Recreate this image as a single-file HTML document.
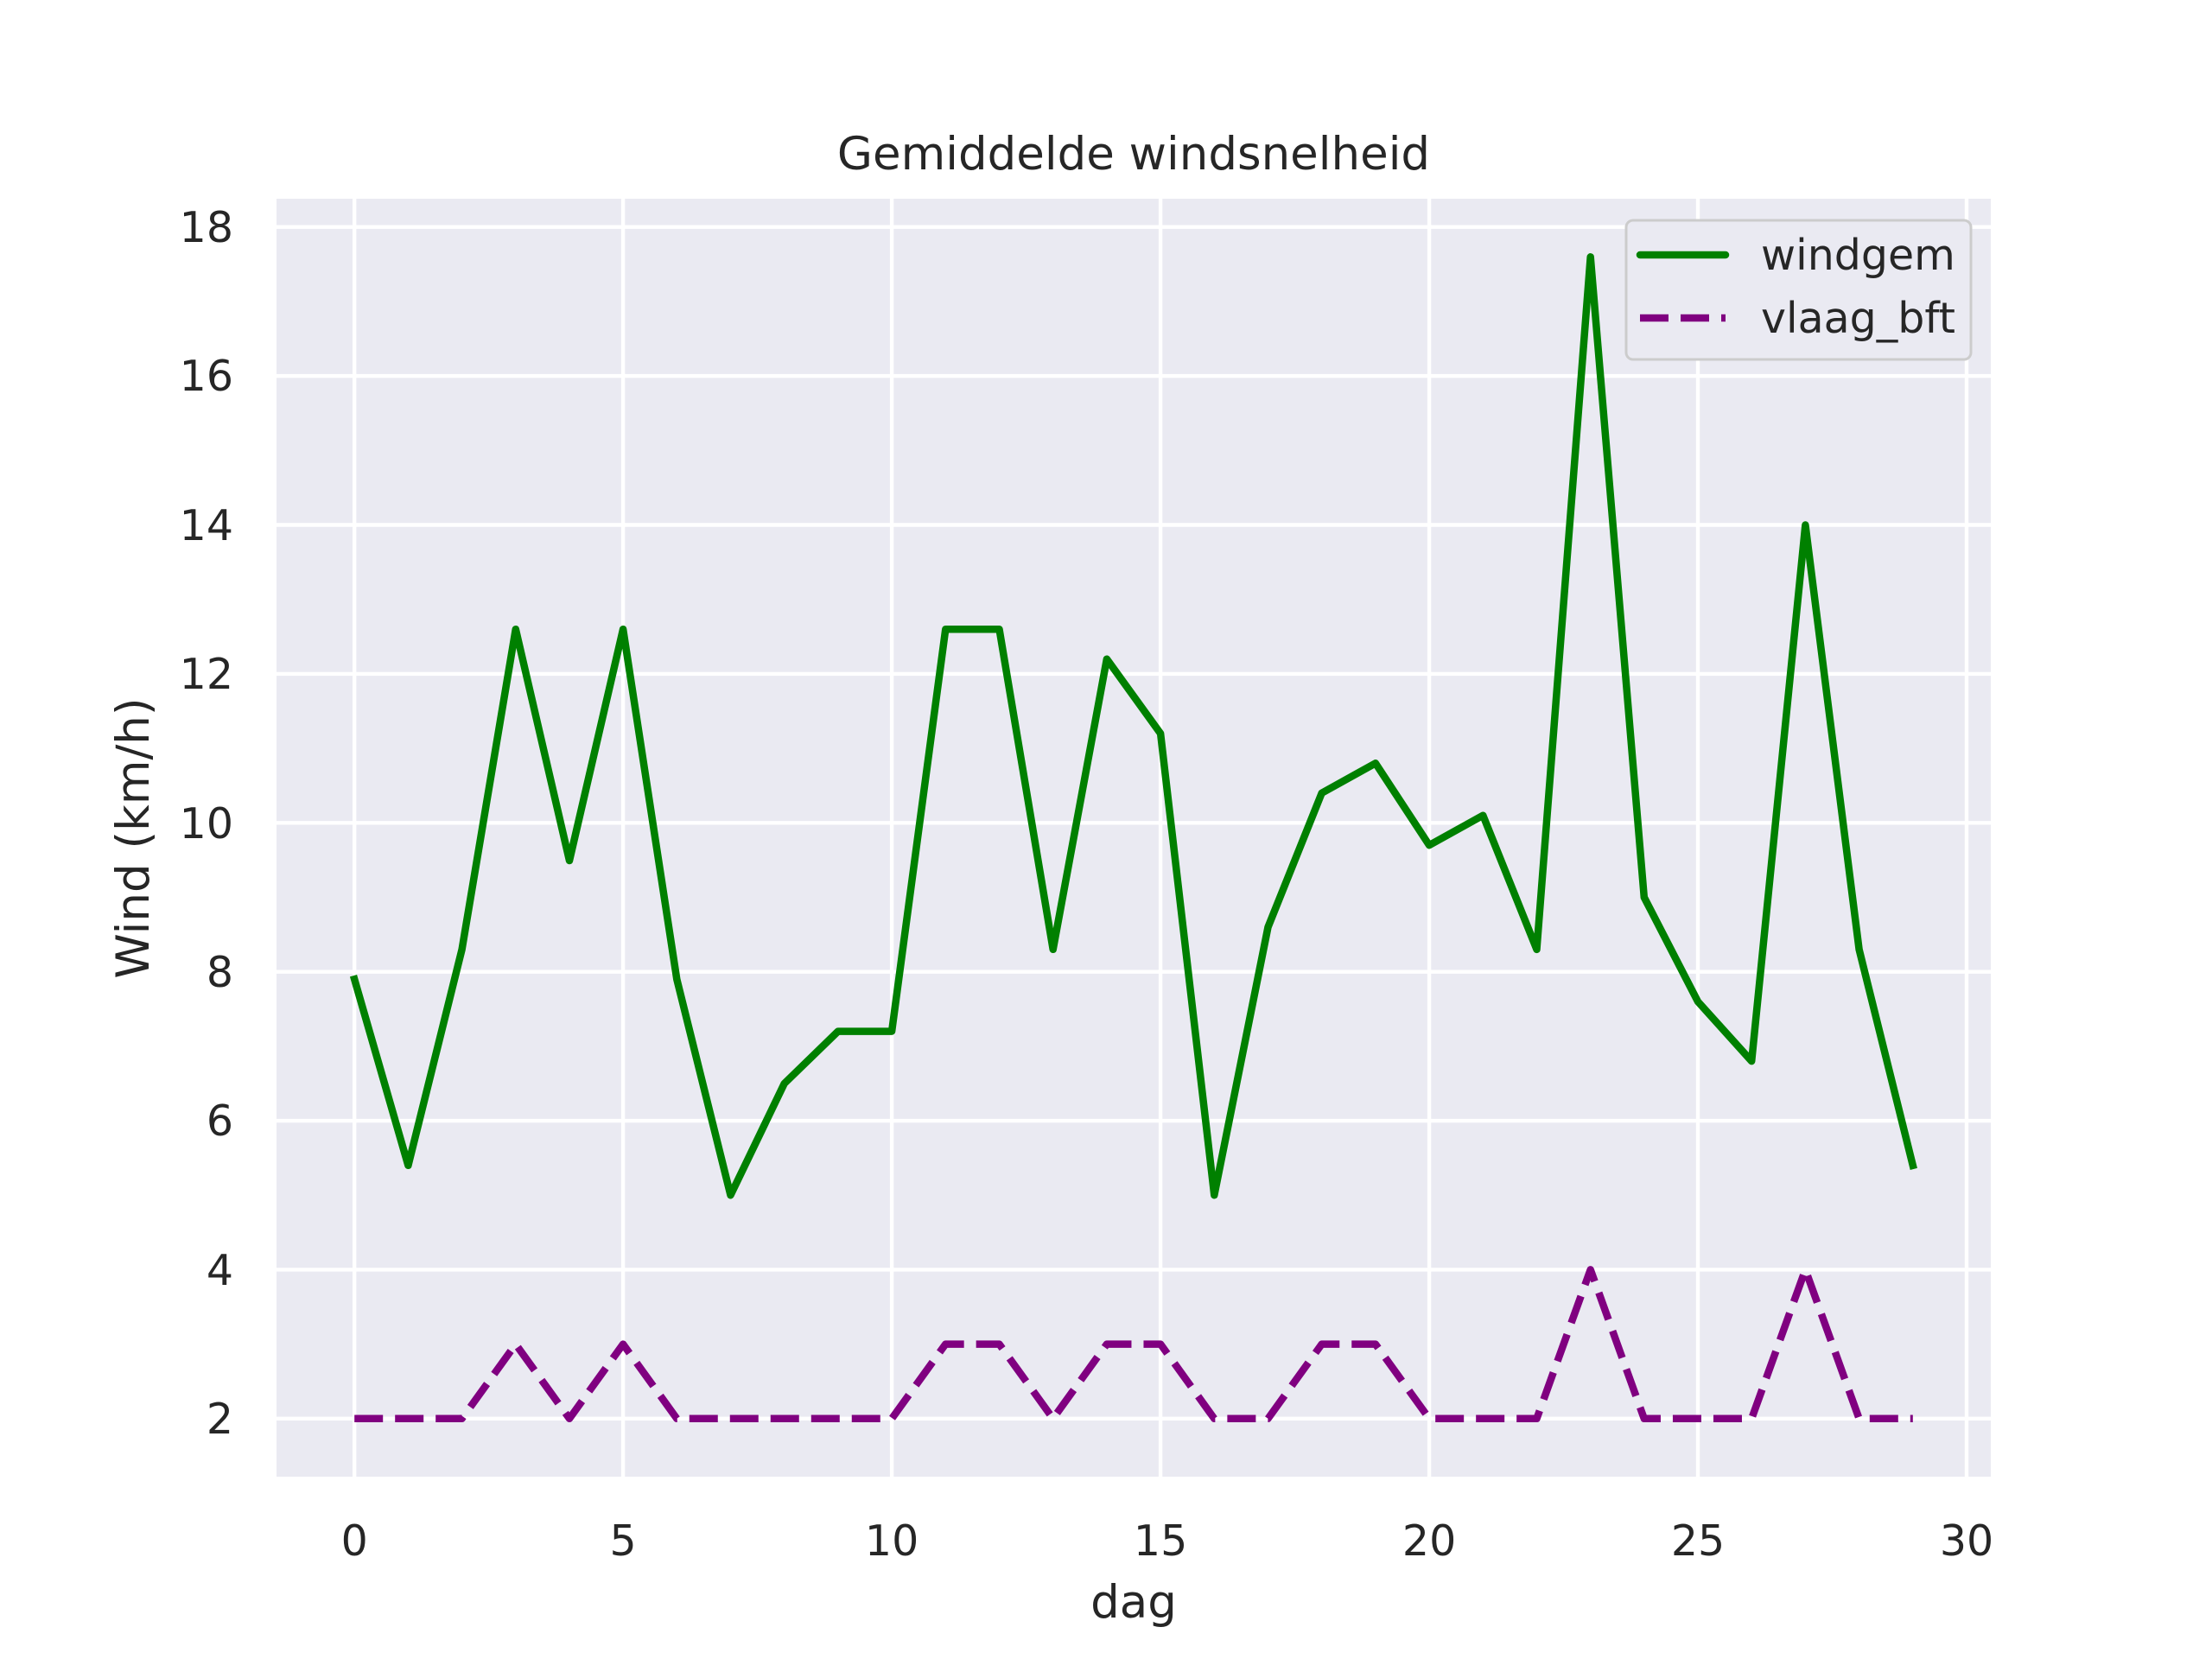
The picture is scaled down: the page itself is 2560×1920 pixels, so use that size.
<!DOCTYPE html>
<html><head><style>body{margin:0;background:#fff}svg{display:block}text{font-family:"DejaVu Sans","Liberation Sans",sans-serif;fill:#262626}</style></head>
<body>
<svg width="2560" height="1920" viewBox="0 0 2560 1920" xmlns="http://www.w3.org/2000/svg">
<rect x="320" y="230" width="1984" height="1479" fill="#eaeaf2"/>
<g stroke="#fff" stroke-width="4.4">
<line x1="410.2" y1="230" x2="410.2" y2="1709"/><line x1="721.1" y1="230" x2="721.1" y2="1709"/><line x1="1032.1" y1="230" x2="1032.1" y2="1709"/><line x1="1343.1" y1="230" x2="1343.1" y2="1709"/><line x1="1654.1" y1="230" x2="1654.1" y2="1709"/><line x1="1965" y1="230" x2="1965" y2="1709"/><line x1="2276" y1="230" x2="2276" y2="1709"/>
<line x1="320" y1="1641.8" x2="2304" y2="1641.8"/><line x1="320" y1="1469.4" x2="2304" y2="1469.4"/><line x1="320" y1="1297.1" x2="2304" y2="1297.1"/><line x1="320" y1="1124.7" x2="2304" y2="1124.7"/><line x1="320" y1="952.3" x2="2304" y2="952.3"/><line x1="320" y1="779.9" x2="2304" y2="779.9"/><line x1="320" y1="607.5" x2="2304" y2="607.5"/><line x1="320" y1="435.1" x2="2304" y2="435.1"/><line x1="320" y1="262.7" x2="2304" y2="262.7"/>
</g>
<polyline fill="none" stroke="#008000" stroke-width="8.5" stroke-linejoin="round" stroke-linecap="square" points="410.2,1133.3 472.4,1348.8 534.6,1098.8 596.8,728.2 659,996 721.1,728.2 783.3,1133.3 845.5,1383.2 907.7,1254 969.9,1193.6 1032.1,1193.6 1094.3,728.2 1156.5,728.2 1218.7,1098.8 1280.9,762.7 1343.1,848.9 1405.3,1383.2 1467.5,1073 1529.7,917.8 1591.9,883.3 1654.1,978.2 1716.3,943.7 1778.5,1098.8 1840.7,297.3 1902.8,1038.5 1965,1159.2 2027.2,1228.1 2089.4,607.5 2151.6,1098.8 2213.8,1348.8"/>
<polyline fill="none" stroke="#800080" stroke-width="8.5" stroke-linejoin="round" stroke-dasharray="33 14" points="410.2,1641.8 472.4,1641.8 534.6,1641.8 596.8,1555.6 659,1641.8 721.1,1555.6 783.3,1641.8 845.5,1641.8 907.7,1641.8 969.9,1641.8 1032.1,1641.8 1094.3,1555.6 1156.5,1555.6 1218.7,1641.8 1280.9,1555.6 1343.1,1555.6 1405.3,1641.8 1467.5,1641.8 1529.7,1555.6 1591.9,1555.6 1654.1,1641.8 1716.3,1641.8 1778.5,1641.8 1840.7,1469.4 1902.8,1641.8 1965,1641.8 2027.2,1641.8 2089.4,1469.4 2151.6,1641.8 2213.8,1641.8"/>
<g font-size="49" text-anchor="middle">
<text x="410.2" y="1800">0</text><text x="721.1" y="1800">5</text><text x="1032.1" y="1800">10</text><text x="1343.1" y="1800">15</text><text x="1654.1" y="1800">20</text><text x="1965" y="1800">25</text><text x="2276" y="1800">30</text>
</g>
<g font-size="49" text-anchor="end">
<text x="270" y="1659">2</text><text x="270" y="1487">4</text><text x="270" y="1314">6</text><text x="270" y="1142">8</text><text x="270" y="970">10</text><text x="270" y="797">12</text><text x="270" y="625">14</text><text x="270" y="452">16</text><text x="270" y="280">18</text>
</g>
<text x="1312" y="1872" font-size="53" text-anchor="middle">dag</text>
<text x="172" y="970" font-size="53" text-anchor="middle" transform="rotate(-90 172 970)">Wind (km/h)</text>
<text x="1312" y="196" font-size="53" text-anchor="middle">Gemiddelde windsnelheid</text>
<rect x="1882" y="255" width="399" height="161" rx="8" fill="#eaeaf2" stroke="#cccccc" stroke-width="3"/>
<line x1="1898" y1="295" x2="1997" y2="295" stroke="#008000" stroke-width="8.5" stroke-linecap="round"/>
<line x1="1898" y1="368" x2="1997" y2="368" stroke="#800080" stroke-width="8.5" stroke-dasharray="33 14"/>
<text x="2038" y="312" font-size="49">windgem</text>
<text x="2038" y="385" font-size="49">vlaag_bft</text>
</svg>
</body></html>
